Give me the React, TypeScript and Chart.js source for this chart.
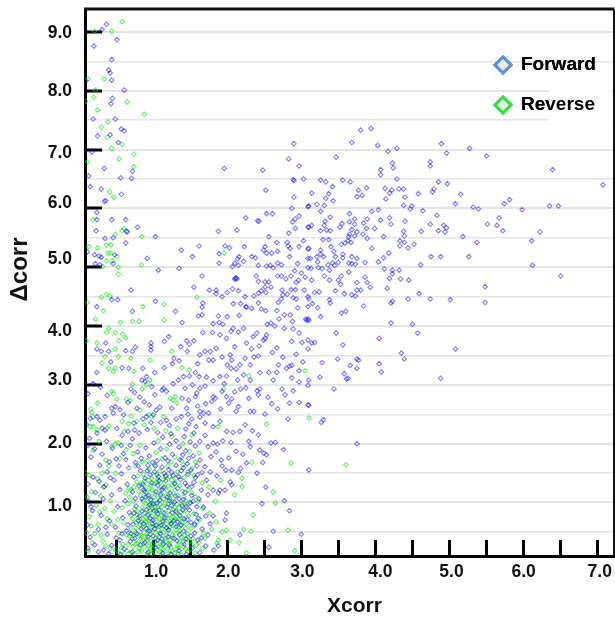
import React, { useEffect, useRef } from "react";
import { Chart, registerables } from "chart.js";

Chart.register(...registerables);

const xTickValues = [0.5,1,1.5,2,2.5,3,3.5,4,4.5,5,5.5,6,6.5,7];
const yTickValues = [0.5,1,1.5,2,2.5,3,3.5,4,4.5,5,5.5,6,6.5,7,7.5,8,8.5,9];

const forwardPoints = [
[.37,9.13],[.31,9.04],[.20,8.76],[.51,8.87],[.44,8.53],[.40,8.35],[.42,8.30],[.44,8.18],[.09,8.17],[.61,8.01],[.45,7.87],[.43,7.78],[.19,7.52],[.49,7.52],[.57,7.35],[.61,7.32],[.25,7.23],[.42,7.25],[.53,7.12],[.17,6.96],[.34,6.68],[.72,6.63],[.13,6.55],[.56,6.52],[.71,6.51],[.15,6.37],[.30,6.33],[.57,6.24],[.34,6.12],[.36,6.13],[.24,5.93],[.24,5.81],[.44,5.81],[.63,5.81],[.23,5.62],[.65,5.60],[.64,5.61],[.79,5.68],[.35,5.49],[.46,5.50],[1.03,5.52],[.63,5.41],[.11,5.26],[.21,5.21],[.27,5.19],[.30,5.17],[.48,5.21],[.22,5.06],[.28,5.04],[.46,5.06],[.92,5.15],[1.38,5.29],[1.62,5.36],[1.53,5.18],[1.07,4.95],[1.35,4.98],[1.66,4.85],[.70,4.61],[1.55,4.66],[1.76,4.61],[1.85,4.61],[1.85,4.55],[1.93,4.50],[2.00,4.57],[2.07,4.63],[2.15,4.60],[.44,4.45],[.52,4.45],[.24,4.33],[1.03,4.42],[1.67,4.39],[1.66,4.32],[2.08,4.38],[2.18,4.38],[2.25,4.33],[2.24,4.50],[2.36,4.51],[2.42,4.56],[2.42,4.39],[1.88,5.61],[2.13,5.63],[1.89,5.23],[1.97,5.36],[2.03,5.33],[2.23,5.35],[1.89,5.07],[2.07,5.01],[2.10,5.07],[2.14,5.14],[2.16,5.18],[2.15,5.03],[2.22,5.10],[2.33,5.18],[2.38,5.16],[2.11,4.81],[2.12,4.82],[2.10,4.80],[2.13,4.80],[1.96,6.68],[2.48,6.65],[2.52,6.31],[2.83,6.84],[2.90,7.10],[2.97,6.72],[2.89,6.49],[2.90,6.47],[3.03,6.50],[2.90,6.19],[2.87,6.00],[3.09,6.03],[2.53,5.91],[2.61,5.91],[2.25,5.84],[2.41,5.79],[2.43,5.78],[2.97,5.87],[2.92,5.82],[2.88,5.77],[3.09,5.68],[2.92,5.66],[2.83,5.58],[2.56,5.52],[2.67,5.42],[2.81,5.42],[3.03,5.45],[2.82,5.36],[2.85,5.32],[2.97,5.35],[3.09,5.31],[2.51,5.35],[2.49,5.29],[2.53,5.24],[2.60,5.24],[2.68,5.27],[2.84,5.18],[3.09,5.15],[2.42,5.03],[2.53,5.02],[2.58,5.03],[2.62,4.99],[2.68,5.07],[2.73,5.04],[2.95,5.06],[3.09,4.99],[2.39,4.85],[2.42,4.76],[2.51,4.75],[2.56,4.75],[2.68,4.85],[2.73,4.85],[2.79,4.80],[2.86,4.85],[2.91,4.94],[3.00,4.90],[3.05,4.83],[2.96,4.78],[2.93,4.74],[2.51,4.66],[2.59,4.66],[2.46,4.60],[2.52,4.57],[2.74,4.61],[2.86,4.62],[2.92,4.62],[3.04,4.61],[2.81,4.54],[2.75,4.53],[2.73,4.46],[2.69,4.40],[2.89,4.48],[2.93,4.46],[3.09,4.50],[2.95,4.31],
[3.80,7.33],[3.94,7.36],[3.68,7.12],[4.03,7.07],[4.29,7.02],[4.17,6.97],[4.89,7.10],[5.27,7.02],[5.50,6.89],[4.96,6.94],[3.47,6.87],[4.23,6.77],[4.24,6.69],[4.74,6.79],[4.74,6.72],[4.07,6.66],[4.07,6.57],[6.39,6.66],[7.07,6.40],[4.29,6.50],[3.26,6.48],[3.33,6.45],[3.56,6.48],[3.66,6.45],[4.85,6.45],[4.97,6.42],[3.42,6.37],[3.88,6.35],[3.77,6.31],[4.13,6.34],[4.22,6.31],[4.32,6.33],[4.38,6.33],[4.79,6.33],[4.77,6.28],[3.14,6.26],[3.37,6.25],[3.33,6.17],[3.75,6.20],[3.82,6.22],[4.19,6.26],[4.58,6.25],[4.40,6.19],[4.14,6.16],[5.15,6.24],[3.43,6.13],[5.08,6.08],[5.81,6.15],[5.74,6.08],[3.21,6.07],[3.31,6.05],[3.10,6.04],[4.38,6.05],[4.49,6.04],[4.47,5.99],[5.32,6.02],[5.39,5.99],[5.98,5.98],[6.35,6.04],[6.47,6.04],[4.64,5.96],[3.26,5.95],[3.65,5.91],[3.95,5.95],[4.04,5.98],[4.83,5.88],[4.19,5.84],[4.07,5.80],[3.72,5.82],[5.67,5.84],[3.39,5.85],[3.32,5.78],[3.65,5.77],[3.89,5.82],[3.84,5.75],[4.40,5.78],[4.21,5.73],[4.74,5.73],[4.92,5.71],[5.51,5.73],[5.64,5.71],[3.14,5.71],[3.10,5.68],[3.31,5.71],[3.52,5.68],[3.55,5.74],[3.72,5.73],[3.88,5.66],[3.99,5.66],[4.96,5.67],[4.94,5.60],[4.85,5.62],[4.62,5.61],[4.38,5.61],[5.72,5.62],[6.22,5.60],[3.26,5.62],[3.34,5.63],[3.39,5.62],[3.68,5.64],[3.75,5.60],[3.65,5.56],[3.64,5.52],[3.72,5.53],[3.83,5.56],[3.89,5.49],[4.11,5.52],[4.39,5.53],[5.18,5.52],[6.11,5.45],[5.37,5.42],[3.29,5.47],[3.37,5.47],[3.63,5.45],[3.59,5.41],[3.67,5.42],[3.54,5.39],[4.33,5.45],[4.39,5.42],[4.52,5.39],[4.33,5.36],[4.44,5.33],[3.95,5.32],[3.10,5.32],[3.26,5.29],[3.40,5.35],[3.44,5.27],[4.18,5.24],[3.12,5.15],[3.21,5.18],[3.30,5.18],[3.26,5.22],[3.46,5.18],[3.56,5.22],[3.56,5.16],[3.68,5.18],[3.75,5.15],[4.11,5.16],[4.04,5.09],[4.75,5.18],[4.88,5.18],[5.26,5.18],[3.22,5.09],[3.36,5.04],[3.42,5.07],[3.50,5.08],[3.64,5.07],[3.68,5.06],[3.73,5.05],[3.86,5.08],[3.45,5.03],[4.61,5.04],[6.12,5.03],[3.13,4.98],[3.23,4.99],[3.28,4.98],[3.38,4.95],[4.12,4.97],[4.23,4.95],[4.32,4.95],[3.64,4.92],[4.23,4.89],[4.19,4.81],[6.50,4.85],[3.31,4.85],[3.54,4.85],[3.86,4.83],[3.38,4.78],[3.14,4.78],[3.50,4.78],[4.34,4.80],[4.45,4.78],[3.75,4.74],[3.89,4.74],[3.53,4.71],[3.93,4.66],[4.16,4.64],[5.48,4.67],[3.46,4.60],[3.75,4.61],[3.80,4.61],[3.18,4.57],[3.24,4.58],[3.58,4.55],[4.59,4.55],[3.68,4.53],[3.73,4.51],[3.10,4.46],[3.38,4.45],[3.39,4.39],[4.44,4.46],[4.74,4.46],[5.01,4.45],[5.48,4.40],[4.21,4.39],[4.23,4.42],[3.09,4.33],[3.15,4.38],[3.22,4.31],[3.84,4.34],
[3.54,4.22],[3.60,4.25],[3.26,4.16],[3.07,4.10],[3.10,4.10],[4.21,4.05],[4.50,4.03],[4.57,3.88],[3.47,3.88],[4.05,3.79],[3.14,3.71],[3.18,3.72],[3.56,3.68],[3.09,3.61],[4.35,3.54],[5.08,3.61],[4.39,3.44],[3.28,3.38],[3.49,3.44],[3.75,3.44],[3.77,3.42],[4.05,3.36],[3.66,3.33],[3.75,3.28],[4.08,3.22],[3.58,3.19],[3.25,3.13],[3.61,3.10],[3.63,3.11],[4.88,3.11],[3.10,3.08],[3.09,2.99],[3.44,2.93],[3.10,2.65],[3.30,2.41],[3.27,2.36],[3.75,2.00],[3.10,1.55],
[.72,4.25],[1.30,4.25],[1.39,4.06],[1.61,4.17],[1.66,4.19],[1.88,4.17],[2.00,4.16],[1.81,4.04],[1.89,4.06],[1.94,4.03],[2.16,4.18],[2.08,3.96],[2.22,3.96],[2.26,4.32],[2.33,4.30],[2.46,4.29],[2.52,4.26],[2.67,4.26],[2.70,4.12],[2.77,4.19],[2.85,4.19],[2.88,4.08],[3.06,4.12],[3.09,4.12],[2.54,4.03],[2.59,4.05],[2.64,4.00],[2.77,3.96],[2.89,3.95],[2.97,3.88],[2.40,3.88],[2.35,3.82],[2.15,3.90],[2.05,3.91],[1.80,3.89],[1.67,3.89],[1.90,3.85],[1.99,3.79],[2.53,3.85],[2.51,3.79],[2.49,3.76],[2.26,3.71],[2.87,3.74],[3.01,3.72],[3.09,3.76],[2.67,3.63],[2.33,3.61],
[1.45,3.75],[1.49,3.69],[1.55,3.75],[1.37,3.65],[1.15,3.74],[1.21,3.82],[.97,3.71],[.97,3.65],[.97,3.59],[.76,3.64],[.72,3.57],[.63,3.58],[.24,3.61],[.30,3.57],[.36,3.71],[.40,3.57],[.43,3.39],[.24,3.21],[.58,3.29],[.67,3.28],[.86,3.28],[1.02,3.21],[1.15,3.29],[1.28,3.45],[1.35,3.41],[1.46,3.57],[1.63,3.51],[1.70,3.57],[1.77,3.57],[1.75,3.42],[1.81,3.42],[1.93,3.47],[2.04,3.51],[2.06,3.42],[2.00,3.34],[2.05,3.28],[2.12,3.27],[2.17,3.34],[2.24,3.45],[2.31,3.34],[2.36,3.47],[2.42,3.49],[2.44,3.21],[2.56,3.21],[2.67,3.21],[2.75,3.47],[2.69,3.34],[2.80,3.28],[2.84,3.32],[2.87,3.33],[2.97,3.24],
[.91,3.14],[.85,3.08],[.89,3.06],[1.14,2.94],[1.12,2.91],[1.18,2.89],[1.34,3.08],[1.41,3.14],[1.49,3.15],[1.57,3.21],[1.62,3.14],[1.72,3.13],[1.81,3.07],[1.90,3.14],[1.99,3.15],[2.14,3.08],[2.22,3.17],[2.18,2.93],[1.63,2.94],[1.59,2.86],[1.57,2.80],[1.81,2.80],[1.99,2.80],[2.06,2.76],[2.29,2.77],[2.40,2.90],[2.44,2.93],[2.42,2.83],[2.62,3.08],[2.74,2.93],[2.78,2.83],[2.84,2.69],[2.97,2.70],[3.09,2.66],[2.68,2.59],[2.51,2.50],[2.36,2.55],[2.15,2.63],[2.12,2.55],[1.84,2.77],[1.79,2.72],[1.48,2.74],[1.39,2.77],[1.45,2.60],[1.25,2.60],
[1.63,2.55],[1.68,2.52],[1.75,2.52],[1.63,2.45],[1.70,2.35],[1.81,2.29],[1.90,2.38],[1.48,2.34],[1.58,2.29],[1.38,2.46],[1.18,2.40],[.91,2.46],[.78,2.60],[.49,2.63],[.44,2.60],[.46,2.52],[.60,2.49],[.35,2.46],[.24,2.46],[.28,2.40],[.15,2.43],[.24,2.18],[.31,2.26],[.35,2.23],[.51,2.26],[1.99,2.21],[2.08,2.19],[2.17,2.21],[2.24,2.32],[2.31,2.55],[2.42,2.15],[2.59,2.01],[2.65,2.02],[2.29,2.04],[2.31,1.95],[2.44,1.89],[2.49,1.84],[2.53,1.81],[2.76,1.90],[2.48,1.68],[2.40,1.50],[2.26,1.67],[2.15,1.51],[2.18,1.58],[2.06,1.55],[1.98,1.55],[2.04,1.35],[2.06,1.30],[1.97,1.21],[1.90,1.21],[1.81,1.21],[1.88,1.16],[2.52,1.26],[2.47,.98],[2.77,1.03],[2.84,.86],[2.62,.51],[3.00,.46],[2.56,.24],[2.17,.45],[1.81,.77],[1.99,.82],[1.97,.70],[1.81,2.01],[1.74,1.95],[1.63,2.04],
[.70,2.93],[.75,2.87],[.82,2.79],[.88,2.71],[.95,2.66],[1.04,2.57],[1.09,2.62],[1.00,2.49],[.86,2.42],[.74,2.35],[.66,2.21],[.58,2.14],[.72,2.08],[.81,2.18],[.92,2.24],[1.06,2.19],[1.13,2.11],[1.24,2.17],[1.31,2.05],[1.42,2.12],[1.50,2.03],[1.57,1.96],[1.44,1.88],[1.35,1.94],[1.22,1.99],[1.10,1.91],[1.01,2.01],[.90,1.93],[.79,1.86],[.69,1.97],[.60,1.83],[.50,1.74],[.41,1.69],[.31,1.82],[.21,1.91],[.12,1.97],[.16,1.77],[.28,1.63],[.38,1.52],[.47,1.38],[.57,1.49],[.67,1.59],[.76,1.68],[.84,1.75],[.95,1.79],[1.05,1.71],[1.16,1.76],[1.26,1.82],[1.36,1.73],[1.46,1.66],[1.54,1.79],[1.63,1.72],[1.70,1.61],[1.77,1.52],[1.86,1.45],[1.72,1.38],[1.60,1.47],[1.51,1.55],[1.41,1.59],[1.31,1.63],[1.21,1.56],[1.12,1.60],[1.02,1.52],[.93,1.63],[.83,1.54],[.74,1.43],[.65,1.31],[.55,1.22],[.44,1.13],[.33,1.06],[.22,1.17],[.13,1.02],[.18,.86],[.30,.78],[.41,.69],[.52,.93],[.62,1.03],[.72,1.18],[.81,1.28],[.89,1.41],[.98,1.33],[1.07,1.44],[1.17,1.37],[1.27,1.46],[1.37,1.39],[1.46,1.28],[1.55,1.34],[1.65,1.21],[1.74,1.13],[1.62,1.06],[1.52,1.12],[1.43,1.17],[1.33,1.24],[1.23,1.16],[1.14,1.25],[1.04,1.18],[.94,1.12],[.85,1.06],[.77,.94],[.68,.83],[.59,.74],[.49,.58],[.38,.46],[.26,.54],[.15,.41],[.11,.62],[.21,.28],[.33,.19],[.44,.27],[.55,.36],[.64,.52],[.73,.63],[.82,.77],[.91,.88],[1.00,.97],[1.09,1.04],[1.19,.92],[1.29,1.01],[1.39,.95],[1.49,.87],[1.58,.80],[1.68,.92],[1.77,.64],[1.66,.55],[1.56,.63],[1.46,.71],[1.36,.78],[1.26,.83],[1.16,.74],[1.06,.81],[.96,.73],[.87,.64],[.78,.47],[.69,.34],[.61,.21],[.72,.16],[.83,.28],[.93,.42],[1.02,.55],[1.11,.61],[1.21,.53],[1.31,.59],[1.41,.51],[1.51,.43],[1.60,.36],[1.71,.26],[1.82,.19],[1.63,.15],[1.53,.22],[1.42,.29],[1.32,.35],[1.22,.27],[1.12,.38],[1.03,.23],[.93,.15],[1.13,.14],[1.24,.12],[1.35,.18],[1.45,.12],[.56,.12],[.40,.13],[.26,.16],[.12,.22],[.99,.64],[.97,1.05],[1.08,.87],[1.19,1.09],[1.28,.69],[1.38,.62],[.88,1.19],[.76,1.07],[1.10,.47],[1.02,.33],[.91,.56],[1.30,1.11],[1.41,1.05],[1.50,.99],[1.15,1.50],[1.06,1.29],[.96,1.47],
];

const forwardClusterPoints = [
[.80,1.62],[.86,1.31],[.92,1.54],[.99,1.68],[1.03,1.62],[1.08,1.37],[1.12,1.22],[1.17,1.45],[1.20,1.71],[1.25,1.51],[1.29,1.32],[1.34,1.44],[1.38,1.54],[1.43,1.33],[1.47,1.48],[1.52,1.27],[1.57,1.42],[1.59,1.62],[1.66,1.51],[1.48,1.75],[1.40,1.81],[.87,1.22],[.90,1.09],[.95,.96],[1.01,.86],[1.05,.99],[1.10,1.13],[1.15,.82],[1.22,1.03],[1.25,.95],[1.31,.85],[1.35,1.06],[1.40,.87],[1.45,.93],[1.54,1.02],[1.59,.93],[.74,.82],[.80,.69],[.85,.85],[.93,.79],[1.00,.70],[1.04,.61],[1.13,.68],[1.18,.57],[1.24,.64],[1.33,.67],[1.42,.72],[1.51,.66],[1.61,.73],[1.71,.77],[.66,.62],[.70,.47],[.75,.39],[.84,.55],[.89,.32],[.95,.51],[1.00,.43],[1.06,.36],[1.14,.30],[1.20,.42],[1.27,.40],[1.36,.45],[1.44,.38],[1.56,.48],[1.65,.40],[1.74,.45],[1.88,.26],[.58,.47],[.50,.40],[.36,.58],[.16,.93],[.12,1.31],[.19,1.43],[.27,1.36],[.34,1.27],[.42,1.42],[.54,1.62],[.63,1.73],[1.92,1.72],[1.85,1.86],[1.78,1.78],[1.93,1.62],[2.02,1.76],[2.12,1.87],[2.21,1.82],[2.34,2.22],[2.05,2.02],[1.94,2.05],[1.87,1.99],[1.70,2.14],[1.55,2.18],[1.44,2.25],[1.22,2.31],[1.10,2.36],[1.31,2.42],[.97,2.36],[.66,2.70],[.55,2.58],[.38,2.82],[.29,2.96],[.19,3.02],[.12,2.85],[.10,2.33],[.14,2.09],[.37,2.04],[.45,1.92],[.57,1.97],[.75,2.23],[1.47,2.50],[1.52,2.42],[1.60,2.64],[1.71,2.68],[1.91,2.59],[2.02,2.69],[1.93,2.89],[1.70,2.98],[1.53,3.00],[1.43,2.94],[1.27,3.02],[1.02,2.83],[.98,2.97],[1.96,3.02],[2.10,2.88],[2.25,2.95],[2.31,3.08],[2.55,2.79],[2.60,2.68],[2.82,2.42],[2.89,2.90],[1.26,3.36],[1.60,3.36],[1.85,3.62],[2.10,3.65],[2.43,3.66],[2.61,3.55],[2.93,3.52],[3.02,3.39],[2.97,3.05],[2.87,3.12],
];

const reversePoints = [
[.58,9.18],[.21,9.01],[.44,9.01],[.12,8.20],[.34,8.20],[.22,8.01],[.20,7.89],[.09,7.82],[.65,7.81],[.25,7.67],[.88,7.60],[.39,7.47],[.30,7.38],[.38,7.21],[.58,7.09],[.44,7.02],[.74,6.92],[.54,6.84],[.11,6.79],[.74,6.71],[.41,6.28],[.47,6.19],[.19,5.81],[.61,5.66],[.58,5.62],[.49,5.56],[.85,5.52],[.43,5.38],[.37,5.38],[.13,5.35],[.25,5.33],[.39,5.24],[.42,5.24],[.51,5.18],[.37,5.11],[.45,5.11],[.32,5.01],[.53,5.00],[.84,5.04],[.53,4.88],[1.96,5.24],[.30,4.49],[.37,4.54],[.42,4.51],[1.59,4.49],[.11,4.40],[.86,4.33],[1.15,4.37],[3.60,1.64],[3.10,2.44],[3.05,3.24],
[.33,4.26],[.22,4.12],[.56,4.06],[.72,4.08],[.81,4.08],[1.15,4.10],[.40,3.96],[.37,3.89],[.49,3.89],[.59,3.86],[.63,3.80],[.54,3.75],[.24,3.71],[.10,3.75],[.49,3.61],[.53,3.48],[.70,3.45],[.96,3.42],[1.25,3.57],[.35,3.48],[.31,3.37],[.40,3.28],[.49,3.28],[.46,3.23],[.74,3.23],[1.49,3.25],[1.39,3.29],[.72,3.01],[.85,2.93],[.96,3.08],[.91,3.00],[.44,2.89],[.46,2.85],[.51,2.76],[.64,2.76],[.69,2.73],[.25,2.69],[.16,2.59],[.17,2.53],[.19,2.45],[.15,2.29],[.19,2.29],[.24,2.23],[.40,2.30],[.38,2.26],[.58,2.38],[.67,2.34],[.78,2.38],[.88,2.32],[1.01,2.26],[1.14,2.46],[.94,2.49],[.98,2.46],[1.23,2.77],[1.27,2.74],[1.32,2.69],[1.30,2.80],[1.95,2.93],[2.29,3.15],[2.53,2.33],[1.88,2.29],[1.33,2.26],[1.25,2.12],[1.52,2.15],[.53,2.01],[.49,2.00],[.44,1.95],[.19,1.89],[.09,1.50],[.31,1.50],[.49,1.50],[.36,1.30],[.33,1.26],[.67,1.24],[.63,1.16],[2.33,1.68],[2.86,1.67],[2.20,1.41],[2.20,1.27],[2.62,1.18],[2.65,.99],[2.35,.79],[1.99,.53],[1.93,.50],[2.22,.54],[2.32,.51],[2.82,.53],[2.16,.32],[2.91,.18],[2.26,.14],[1.86,.31],[1.88,.36],[1.68,.48],[1.70,.39],[1.67,.90],
[.82,1.97],[.73,1.83],[.92,1.71],[1.04,1.85],[1.18,1.91],[1.29,1.77],[1.41,1.64],[1.52,1.58],[1.62,1.84],[1.33,1.52],[1.20,1.62],[1.09,1.53],[.98,1.41],[.87,1.48],[.78,1.35],[.70,1.21],[.83,1.12],[.94,1.24],[1.05,1.34],[1.15,1.27],[1.25,1.38],[1.36,1.29],[1.47,1.21],[1.57,1.10],[1.44,1.03],[1.32,.97],[1.22,1.07],[1.11,1.15],[1.01,1.09],[.90,.98],[.79,.85],[.72,.72],[.84,.67],[.95,.81],[1.06,.92],[1.16,.99],[1.27,.88],[1.37,.83],[1.48,.77],[1.59,.68],[1.51,.56],[1.39,.66],[1.29,.72],[1.18,.64],[1.08,.73],[.98,.58],[.88,.49],[.77,.56],[.68,.43],[.59,.29],[.73,.25],[.86,.36],[.96,.46],[1.07,.53],[1.18,.44],[1.28,.50],[1.38,.41],[1.49,.34],[1.58,.27],[1.44,.21],[1.33,.27],[1.23,.36],[1.13,.28],[1.03,.39],[.94,.26],[.84,.17],[.75,.12],[.98,.13],[1.09,.17],[1.19,.21],[1.29,.14],[1.39,.11],[.65,.18],[.53,.14],[.60,.66],[.54,.48],[.47,.85],[.58,.91],[.38,.72],[.26,.63],[.14,.76],[.23,.95],[.32,.34],[.21,.47],[.12,.18],[.42,.22],[.92,.62],[1.03,.70],[1.13,.83],[.99,.89],[1.10,.66],[1.22,.79],[.89,.75],[.81,.44],[1.00,.21],[1.34,.58],[1.46,.47],[.73,1.02],[.66,.98],
];

const reverseClusterPoints = [
[.76,1.62],[.85,1.69],[.95,1.56],[1.02,1.64],[1.12,1.74],[1.24,1.69],[1.38,1.71],[1.47,1.52],[1.55,1.46],[1.42,1.43],[1.31,1.41],[1.17,1.46],[1.05,1.47],[.93,1.38],[.83,1.31],[.74,1.26],[.81,1.19],[.90,1.18],[.99,1.21],[1.09,1.22],[1.20,1.28],[1.29,1.21],[1.40,1.19],[1.52,1.17],[1.61,1.02],[1.50,1.01],[1.38,.98],[1.26,1.02],[1.17,1.11],[1.07,1.07],[.96,1.04],[.85,.92],[.75,.89],[.70,.78],[.80,.74],[.88,.82],[.98,.77],[1.04,.86],[1.12,.93],[1.21,.86],[1.32,.82],[1.43,.86],[1.55,.81],[1.63,.71],[1.56,.61],[1.45,.63],[1.35,.71],[1.25,.66],[1.15,.71],[1.05,.62],[.94,.69],[.86,.58],[.77,.66],[.70,.55],[.64,.44],[.72,.38],[.79,.31],[.90,.42],[1.00,.51],[1.12,.56],[1.23,.58],[1.34,.49],[1.43,.44],[1.54,.39],[1.62,.32],[1.52,.28],[1.40,.33],[1.29,.38],[1.17,.33],[1.08,.42],[.97,.35],[.88,.24],[.80,.17],[.70,.15],[.60,.12],[.92,.13],[1.03,.15],[1.14,.20],[1.24,.24],[1.35,.23],[1.47,.16],[1.57,.14],[1.67,.22],[1.21,.13],[1.07,.25],[.99,.29],[.66,.28],[.57,.23],[.49,.20],[.36,.26],[.30,.44],[.18,.31],[.10,.48],[.16,.60],[.28,.84],[.35,.90],[.44,.63],[.52,.71],[.42,1.03],[.29,1.11],[.17,1.18],[.11,1.09],[.25,1.40],[.14,1.46],[.40,1.62],[.55,1.75],[.64,1.90],[.36,1.72],[.27,2.04],[.61,2.21],[.70,2.47],[.82,2.57],[1.07,2.05],[1.17,2.22],[1.40,2.00],[1.49,1.87],[1.57,1.69],[1.66,1.33],[1.75,1.26],[1.84,1.02],[1.91,1.38],[1.76,.82],[1.85,.67],[1.79,.55],[2.04,.36],[2.10,1.13],[1.14,.49],[1.01,.99],[.88,1.29],[1.02,.93],[1.27,.75],[1.37,.61],[1.19,.53],[1.09,.34],[.93,.52],[.84,.44],[.76,.49],[.94,.91],[1.19,1.20],[1.33,1.12],[1.44,.95],[1.26,1.29],[1.06,1.40],[.79,1.45],[.68,1.09],
[.78,.79],[.82,.62],[.87,.72],[.91,.67],[.96,.87],[1.00,.60],[1.04,.77],[1.08,.60],[1.11,.78],[1.15,.60],[1.19,.74],[1.23,.69],[1.27,.60],[1.31,.77],[1.35,.52],[1.40,.73],[1.44,.56],[.74,.44],[.83,.37],[.87,.29],[.92,.35],[.96,.22],[1.01,.27],[1.06,.45],[1.10,.22],[1.16,.38],[1.21,.30],[1.26,.44],[1.31,.21],[1.36,.34],[1.41,.25],[1.46,.37],[1.50,.21],[.86,1.03],[.92,1.11],[.97,.97],[1.03,1.14],[1.09,.97],[1.14,1.06],[1.20,.97],[1.24,1.13],[1.29,.92],[1.35,.91],[1.41,1.10],[.89,1.37],[.97,1.29],[1.02,1.33],[1.10,1.34],[1.14,1.39],[1.22,1.44],[1.29,1.33],[.77,.30],[.81,.22],[.94,.16],[1.12,.11],[1.26,.17],[1.34,.13],
];

const forwardColor = "rgba(0,0,255,0.5)";
const reverseColor = "rgba(0,235,0,0.58)";

const labelShiftX: Record<string, number> = { "1.0": 3, "2.0": 1, "3.0": 1, "4.0": 5, "5.0": 2, "6.0": 0, "7.0": 2 };
const labelShiftY: Record<string, number> = { "9.0": 1, "8.0": 0, "7.0": 4, "6.0": -5.6, "5.0": -8, "4.0": 5, "3.0": -5, "2.0": 0, "1.0": 4 };

const chartExtras = {
  id: "chartExtras",
  afterLayout(chart: any) {
    const legend = chart.legend;
    const w = legend.width, h = legend.height;
    legend.left = 473.5; legend.top = 34.5;
    legend.right = legend.left + w; legend.bottom = legend.top + h;
    for (const [id, dx, dy] of [["x", 5, 0], ["y", 0, -13]] as [string, number, number][]) {
      const s = chart.scales[id];
      if (s.__wrapped) continue;
      s.__wrapped = true;
      const orig = s.drawTitle.bind(s);
      s.drawTitle = () => { const c = s.ctx; c.save(); c.translate(dx, dy); orig(); c.restore(); };
    }
  },
  beforeDraw(chart: any) {
    for (const [id, table, k] of [["x", labelShiftX, 0], ["y", labelShiftY, 1]] as [string, Record<string, number>, number][]) {
      const s = chart.scales[id];
      for (const item of s.getLabelItems()) {
        const d = table[item.label];
        if (d && !item.__moved) { item.options.translation[k] += d; item.__moved = true; }
      }
    }
  },
  beforeDatasetsDraw(chart: any) {
    const c = chart.ctx;
    c.save();
    c.fillStyle = "#ffffff";
    c.fillRect(549, 70, 63, 58);
    c.restore();
    chart.legend.draw();
  },
  afterDraw(chart: any) {
    const c = chart.ctx, a = chart.chartArea;
    c.save();
    c.strokeStyle = "#111111";
    c.lineWidth = 3;
    c.beginPath(); c.moveTo(a.left - 1, a.top); c.lineTo(a.right, a.top); c.stroke();
    c.lineWidth = 2;
    c.beginPath(); c.moveTo(a.right, a.top); c.lineTo(a.right, a.bottom); c.stroke();
    c.restore();
  },
};

const noEdgePadding = (s: any) => { s.paddingTop = 0; s.paddingBottom = 0; s.paddingLeft = 0; s.paddingRight = 0; };

export default function App() {
  const ref = useRef<HTMLCanvasElement>(null);
  useEffect(() => {
    const pts = (a: number[][]) => a.map(([x, y]) => ({ x, y }));
    const ds = (label: string, a: number[][], color: string) => ({
      label, data: pts(a), pointStyle: "rectRot", pointRadius: 2.3, pointBorderWidth: 1.1,
      pointBackgroundColor: "rgba(255,255,255,0)", pointBorderColor: color, showLine: false,
    });
    const chart = new Chart(ref.current as HTMLCanvasElement, {
      type: "scatter",
      data: { datasets: [
        ds("Forward", [...forwardPoints, ...forwardClusterPoints], forwardColor),
        ds("Reverse", [...reversePoints, ...reverseClusterPoints], reverseColor),
      ] },
      options: {
        animation: false, responsive: false, devicePixelRatio: 1,
        layout: { autoPadding: false, padding: { top: 9, right: 1, left: 0, bottom: 0 } },
        plugins: {
          tooltip: { enabled: false },
          legend: {
            position: "chartArea", align: "start",
            labels: {
              usePointStyle: true, boxHeight: 11.3, boxWidth: 17, padding: 21, color: "#000",
              font: { family: "Liberation Sans", size: 19, weight: "bold" },
              generateLabels: () => [
                { text: "Forward", fillStyle: "#ece9e2", strokeStyle: "#5b8fd6", lineWidth: 3, pointStyle: "rectRot", hidden: false },
                { text: "Reverse", fillStyle: "#ece9e2", strokeStyle: "#2fe03f", lineWidth: 3, pointStyle: "rectRot", hidden: false },
              ],
            },
          },
        },
        scales: {
          x: {
            type: "linear", min: 0.08, max: 7.22,
            afterBuildTicks: (s: any) => { s.ticks = xTickValues.map((value) => ({ value })); },
            afterFit: (s: any) => { s.height = 61; noEdgePadding(s); },
            grid: { drawOnChartArea: false, drawTicks: true, tickLength: -16, tickWidth: 3, tickColor: "#000" },
            border: { color: "#000", width: 3 },
            ticks: {
              padding: 22, autoSkip: false, maxRotation: 0, color: "#111",
              font: { family: "Liberation Sans", size: 17.5, weight: "bold" },
              callback: (v: any) => (Number.isInteger(v) ? Number(v).toFixed(1) : ""),
            },
            title: {
              display: true, text: "Xcorr", color: "#111", padding: 0,
              font: { family: "Liberation Sans", size: 21, weight: "bold", lineHeight: 1 },
            },
          },
          y: {
            type: "linear", min: 0.09, max: 9.39,
            afterBuildTicks: (s: any) => { s.ticks = yTickValues.map((value) => ({ value })); },
            afterFit: (s: any) => { s.width = 85; noEdgePadding(s); },
            grid: {
              drawTicks: true, tickLength: -17,
              color: "#e4e4e4", lineWidth: (c: any) => (c.tick && Number.isInteger(c.tick.value) ? 2 : 1.5),
              tickColor: (c: any) => (c.tick && Number.isInteger(c.tick.value) ? "#000" : "rgba(0,0,0,0)"),
              tickWidth: 3,
            },
            border: { color: "#000", width: 3 },
            ticks: {
              padding: 30, autoSkip: false, color: "#111",
              font: { family: "Liberation Sans", size: 17.5, weight: "bold" },
              callback: (v: any) => (Number.isInteger(v) ? Number(v).toFixed(1) : ""),
            },
            title: {
              display: true, text: "Δcorr", color: "#111", padding: { top: 6, bottom: 0 },
              font: { family: "Liberation Sans", size: 24, weight: "bold" },
            },
          },
        },
      } as any,
      plugins: [chartExtras as any],
    });
    return () => chart.destroy();
  }, []);
  return (
    <canvas
      ref={ref}
      width={615}
      height={617}
      style={{ position: "absolute", left: 0, top: 0, width: 615, height: 617, display: "block" }}
    />
  );
}
